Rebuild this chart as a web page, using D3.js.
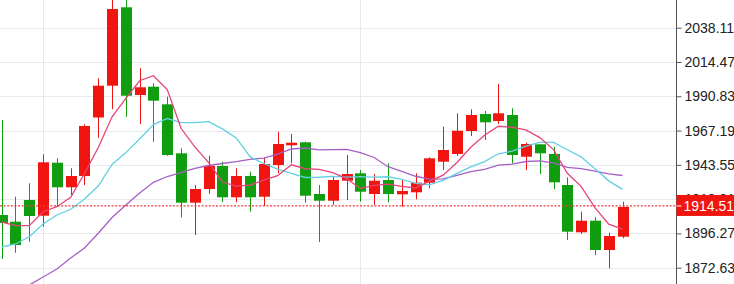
<!DOCTYPE html>
<html>
<head>
<meta charset="utf-8">
<script src="https://cdn.jsdelivr.net/npm/d3@7"></script>
<style>
  body { margin: 0; background: #fff; }
  svg { display: block; font-family: Arial, "Liberation Sans", sans-serif; }
</style>
</head>
<body>
<svg id="chart"></svg>
<script>
// candles, left to right
var open = [1908.97, 1904.35, 1919.31, 1908.48, 1945.03, 1928.06, 1935.86, 1976.19, 1998.12, 2052.18, 1991.71, 1997.43, 1985.29, 1951.51, 1917.45, 1926.89, 1942.75, 1921.17, 1935.86, 1921.58, 1943.44, 1957.02, 1959.09, 1923.45, 1918.82, 1932.61, 1937.72, 1923.45, 1933.10, 1923.24, 1924.62, 1931.24, 1945.72, 1951.03, 1966.88, 1978.61, 1973.78, 1977.92, 1949.16, 1957.71, 1951.03, 1929.65, 1897.04, 1905.04, 1884.83, 1894.00];
var high = [1974.47, 1921.58, 1930.82, 1950.82, 1948.06, 1941.17, 1971.50, 2003.22, 2058.60, 2058.00, 2010.12, 1999.77, 1990.53, 1954.96, 1929.65, 1949.85, 1945.72, 1941.17, 1938.82, 1948.75, 1966.40, 1964.82, 1959.51, 1929.65, 1935.86, 1950.34, 1939.99, 1937.24, 1944.61, 1933.58, 1937.72, 1948.75, 1969.85, 1979.09, 1981.85, 1980.67, 1999.29, 1982.54, 1958.82, 1957.71, 1956.06, 1934.96, 1911.24, 1907.38, 1896.76, 1918.14];
var low = [1878.63, 1882.97, 1890.56, 1900.90, 1914.69, 1922.76, 1929.65, 1962.26, 1981.85, 1976.74, 1971.71, 1959.51, 1949.85, 1907.38, 1895.18, 1923.45, 1917.72, 1917.72, 1911.24, 1915.17, 1937.72, 1944.61, 1917.45, 1890.35, 1915.86, 1919.31, 1918.14, 1915.86, 1917.72, 1914.69, 1919.79, 1927.37, 1939.99, 1949.65, 1963.44, 1960.68, 1971.71, 1944.61, 1939.99, 1937.24, 1926.69, 1891.73, 1895.86, 1881.38, 1872.21, 1892.90];
var close = [1903.45, 1888.28, 1908.28, 1945.30, 1928.06, 1935.86, 1970.33, 1998.12, 2051.00, 1991.22, 1997.02, 1987.78, 1950.34, 1917.45, 1926.89, 1942.75, 1921.17, 1935.86, 1921.17, 1944.13, 1957.92, 1958.82, 1922.27, 1918.82, 1933.10, 1937.24, 1925.03, 1932.61, 1923.45, 1925.51, 1931.24, 1948.06, 1953.78, 1967.09, 1977.92, 1972.88, 1979.09, 1950.34, 1957.92, 1951.51, 1931.51, 1897.45, 1905.04, 1884.83, 1894.49, 1914.51];

// moving averages as drawn
var ma5 = [1904.14, 1901.59, 1901.59, 1911.24, 1914.67, 1921.16, 1937.57, 1955.53, 1976.67, 1989.31, 2001.54, 2005.03, 1995.47, 1968.76, 1955.90, 1945.04, 1931.72, 1928.82, 1929.57, 1933.02, 1936.05, 1943.58, 1940.86, 1940.39, 1938.19, 1934.05, 1927.29, 1929.36, 1930.29, 1928.77, 1927.57, 1932.17, 1936.41, 1945.14, 1955.62, 1963.95, 1970.15, 1969.46, 1967.63, 1962.35, 1954.07, 1937.75, 1928.69, 1914.07, 1902.66, 1899.26];
var ma10 = [1886.90, 1888.97, 1894.00, 1902.76, 1908.97, 1912.90, 1920.00, 1928.96, 1943.79, 1951.99, 1961.35, 1971.30, 1975.50, 1972.72, 1972.60, 1973.29, 1968.37, 1962.15, 1949.17, 1944.46, 1940.55, 1937.65, 1934.84, 1934.98, 1935.60, 1935.05, 1935.44, 1935.11, 1935.34, 1933.48, 1930.81, 1929.73, 1932.88, 1937.71, 1942.19, 1945.76, 1951.16, 1952.94, 1956.38, 1958.98, 1959.01, 1953.95, 1949.08, 1940.85, 1932.51, 1926.67];
var ma20 = [1849.67, 1855.18, 1860.70, 1866.21, 1871.73, 1879.32, 1886.21, 1896.35, 1907.24, 1915.86, 1924.13, 1931.51, 1935.51, 1938.27, 1941.17, 1943.10, 1944.47, 1945.72, 1947.37, 1948.22, 1950.95, 1954.47, 1955.17, 1953.85, 1954.10, 1954.17, 1951.91, 1948.63, 1942.25, 1938.97, 1935.68, 1933.69, 1933.86, 1936.35, 1938.90, 1940.40, 1943.30, 1944.02, 1945.86, 1946.23, 1944.91, 1941.84, 1940.98, 1939.28, 1937.35, 1936.21];

var priceTicks = [1872.63, 1896.27, 1919.91, 1943.55, 1967.19, 1990.83, 2014.47, 2038.11];
var vGridAt = [3, 26];
var lastPrice = 1914.51;

var W = 734, H = 284;
var plotW = 676;
var upColor = "#f0150f", downColor = "#109d10";

var svg = d3.select("#chart").attr("width", W).attr("height", H);

var x = d3.scaleLinear().domain([0, close.length - 1]).range([1.7, 622.5]);
var y = d3.scaleLinear().domain([1872.63, 2038.11]).range([267.7, 27.7]);
var crisp = v => Math.round(v) + 0.5;

svg.append("clipPath").attr("id", "plot")
  .append("rect").attr("x", 0).attr("y", 0).attr("width", plotW).attr("height", H);

var g = svg.append("g").attr("clip-path", "url(#plot)");

// grid
g.selectAll(".hgrid").data(priceTicks).enter().append("line")
  .attr("x1", 0).attr("x2", plotW)
  .attr("y1", d => crisp(y(d))).attr("y2", d => crisp(y(d)))
  .attr("stroke", "#e6e9ee").attr("stroke-width", 1);
g.selectAll(".vgrid").data(vGridAt).enter().append("line")
  .attr("x1", d => crisp(x(d))).attr("x2", d => crisp(x(d)))
  .attr("y1", 0).attr("y2", H)
  .attr("stroke", "#e6e9ee").attr("stroke-width", 1);

// candles
var candles = close.map((c, i) => ({i: i, o: open[i], h: high[i], l: low[i], c: c}));
var cg = g.selectAll(".candle").data(candles).enter().append("g");
cg.append("line")
  .attr("x1", d => crisp(x(d.i))).attr("x2", d => crisp(x(d.i)))
  .attr("y1", d => y(d.h)).attr("y2", d => y(d.l))
  .attr("stroke", d => d.c >= d.o ? upColor : downColor).attr("stroke-width", 1);
cg.append("rect")
  .attr("x", d => Math.round(x(d.i)) - 5)
  .attr("width", 11)
  .attr("y", d => y(Math.max(d.o, d.c)))
  .attr("height", d => Math.max(1.5, Math.abs(y(d.o) - y(d.c))))
  .attr("fill", d => d.c >= d.o ? upColor : downColor);

// MA lines
var line = d3.line().x((d, i) => x(i)).y(d => y(d));
[[ma20, "#a65fc6"], [ma10, "#63cfe2"], [ma5, "#e5457a"]].forEach(function(s) {
  g.append("path").datum(s[0])
    .attr("d", line)
    .attr("fill", "none")
    .attr("stroke", s[1])
    .attr("stroke-width", 1.3);
});

// last price line
g.append("line")
  .attr("x1", 0).attr("x2", plotW)
  .attr("y1", y(lastPrice) - 1).attr("y2", y(lastPrice) - 1)
  .attr("stroke", "#f03a3a").attr("stroke-width", 1.2)
  .attr("stroke-dasharray", "2,1.6");

// price axis
var axis = svg.append("g")
  .attr("transform", "translate(" + (plotW + 0.5) + ",0)")
  .call(d3.axisRight(y).tickValues(priceTicks).tickSize(5).tickPadding(3).tickFormat(d3.format(".2f")));
axis.select(".domain").attr("d", "M0,0V" + H).attr("stroke", "#555");
axis.selectAll(".tick line").attr("stroke", "#555");
axis.selectAll(".tick text").attr("fill", "#222").style("font-size", "14px");

// last price tag (covers part of the 1919.91 label, as in the original)
var tag = svg.append("g").attr("transform", "translate(" + (plotW + 0.5) + "," + (y(lastPrice) - 1) + ")");
tag.append("rect").attr("x", 0).attr("y", -11).attr("width", W - plotW).attr("height", 21).attr("fill", upColor);
tag.append("line").attr("x1", 0).attr("x2", 5).attr("y1", 0).attr("y2", 0).attr("stroke", "#fff");
tag.append("text").attr("x", 7).attr("dy", "0.35em")
  .attr("fill", "#fff").style("font-size", "14px")
  .text(d3.format(".2f")(lastPrice));
</script>
</body>
</html>
